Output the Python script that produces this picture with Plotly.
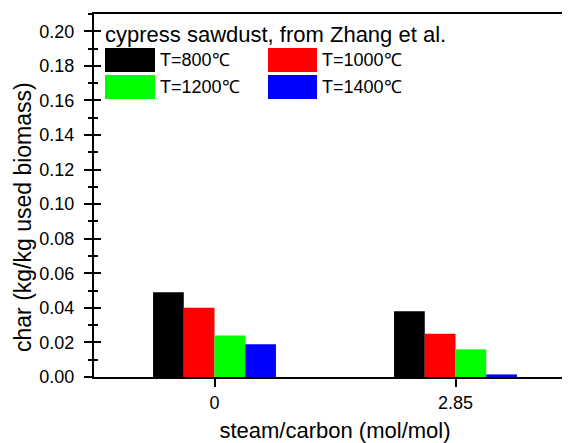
import plotly.graph_objects as go

categories = ["0", "2.85"]
series_names = ["T=800℃", "T=1000℃", "T=1200℃", "T=1400℃"]
series_colors = ["#000000", "#ff0000", "#00ff00", "#0000ff"]
char_800 = [0.049, 0.038]
char_1000 = [0.040, 0.025]
char_1200 = [0.024, 0.016]
char_1400 = [0.019, 0.0015]
series_values = [char_800, char_1000, char_1200, char_1400]
legend_title = "cypress sawdust, from Zhang et al."
x_title = "steam/carbon (mol/mol)"
y_title = "char (kg/kg used biomass)"

# the page body adds an 8px margin; positions below are window pixels
OFF = 8
L, T, R, B = 94, 14, 576, 377
W, H = R - OFF, 443 - OFF
FONT = "Liberation Sans, Arial, sans-serif"


def px(xp):
    return (xp - L) / (R - L)


def py(yp):
    return (B - yp) / (B - T)


def f(size):
    return dict(family=FONT, size=size, color="black")


fig = go.Figure()
for name, col, vals in zip(series_names, series_colors, series_values):
    fig.add_trace(go.Bar(x=categories, y=vals, name=name, marker_color=col,
                         marker_line_width=0, showlegend=False))

# invisible trace to activate the inner-tick overlay axis
fig.add_trace(go.Scatter(x=[categories[0]], y=[None], yaxis="y2", mode="markers",
                         showlegend=False, hoverinfo="skip"))

fig.update_layout(
    width=W, height=H,
    margin=dict(l=L - OFF, r=0, t=T - OFF, b=H - (B - OFF), autoexpand=False),
    paper_bgcolor="white", plot_bgcolor="white",
    barmode="group", bargap=0.49, bargroupgap=0,
    font=f(18),
    xaxis=dict(type="category", range=[-0.5, 1.5],
               showline=True, linecolor="black", linewidth=2, mirror=True,
               ticks="outside", ticklen=8, tickwidth=2, tickcolor="black",
               showgrid=False, zeroline=False,
               title=dict(text=x_title, standoff=16, font=f(22)),
               tickfont=f(18)),
    yaxis=dict(range=[0, 0.21], dtick=0.02, tick0=0, tickformat=".2f",
               showline=True, linecolor="black", linewidth=2, mirror=False,
               ticks="outside", ticklen=8, tickwidth=1.5, tickcolor="black",
               minor=dict(dtick=0.01, ticks="outside", ticklen=4, tickwidth=1.5,
                          tickcolor="black", showgrid=False),
               showgrid=False, zeroline=False, ticklabelstandoff=6,
               tickfont=f(18)),
    yaxis2=dict(overlaying="y", side="left", range=[0, 0.21], dtick=0.02, tick0=0,
                ticks="inside", ticklen=7, tickwidth=1.5, tickcolor="black",
                minor=dict(dtick=0.01, ticks="inside", ticklen=4, tickwidth=1.5,
                           tickcolor="black", showgrid=False),
                showticklabels=False, showline=False, showgrid=False, zeroline=False),
)

# y-axis title (placed below the plot centre, as in the reference)
fig.add_annotation(xref="paper", yref="paper", x=px(23), y=py(217), text=y_title,
                   textangle=-90, showarrow=False, xanchor="center", yanchor="middle",
                   font=f(23))

# custom legend (large swatches as in the reference)
sw_cols = [(105, 155), (268, 317)]
sw_rows = [(48, 72), (75, 99)]
lab_x = [160, 322]
for i, (name, col) in enumerate(zip(series_names, series_colors)):
    r, c = divmod(i, 2)
    x0, x1 = sw_cols[c]
    y0, y1 = sw_rows[r]
    fig.add_shape(type="rect", xref="paper", yref="paper",
                  x0=px(x0), x1=px(x1), y0=py(y1), y1=py(y0),
                  fillcolor=col, line=dict(width=0), layer="above")
    fig.add_annotation(xref="paper", yref="paper", x=px(lab_x[c]), y=py((y0 + y1) / 2),
                       text=name, showarrow=False, xanchor="left", yanchor="middle",
                       font=f(18), xshift=-2)
fig.add_annotation(xref="paper", yref="paper", x=px(105), y=py(34), text=legend_title,
                   showarrow=False, xanchor="left", yanchor="middle",
                   font=f(22), xshift=-2)

fig.write_html("out.html")
